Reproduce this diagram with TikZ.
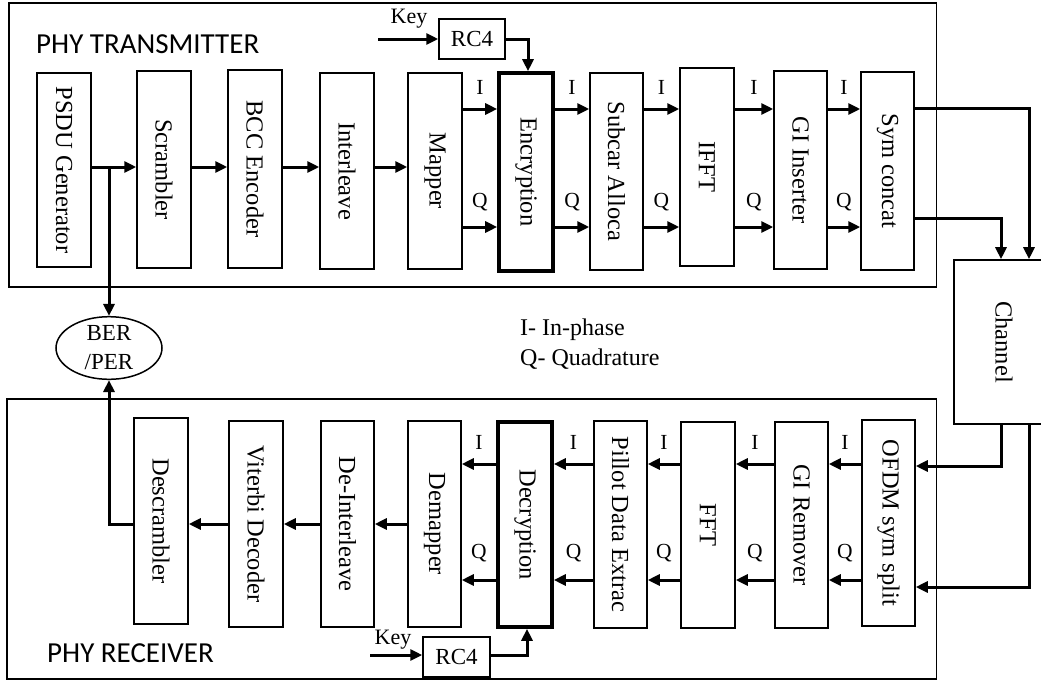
\documentclass[tikz,border=0pt]{standalone}
\usepackage{graphicx}
\usepackage{fontspec}
\setmainfont{Liberation Serif}
\newfontfamily\titlesans{Carlito}
\usetikzlibrary{arrows.meta,shapes.geometric}

\tikzset{
  blk/.style={draw, line width=1.5pt, inner sep=0pt, font=\fontsize{24.5}{28}\selectfont},
  cryptblk/.style={blk, line width=3.6pt},
  frame/.style={draw, line width=1.6pt, inner sep=0pt},
  arr/.style={line width=3pt, -{Triangle[length=12pt,width=11pt]}},
  iq/.style={inner sep=0pt, font=\fontsize{21.5}{24}\selectfont},
  keytxt/.style={inner sep=0pt, font=\fontsize{22}{24}\selectfont},
  rcbox/.style={draw, line width=1.5pt, inner sep=0pt, font=\fontsize{23}{26}\selectfont},
  title/.style={inner sep=0pt, anchor=base west, font=\titlesans\fontsize{29}{34}\selectfont},
}

% vertical processing block given by its corners: [style]{name}{x1}{y1}{x2}{y2}{label}
\newcommand\vblock[7][blk]{%
  \node[#1, minimum width={(#5-#3)*1pt}, minimum height={(#6-#4)*1pt}]
    (#2) at ({(#3+#5)/2},{(#4+#6)/2}) {\rotatebox{-90}{#7}};}

\begin{document}
\begin{tikzpicture}[x=1pt,y=-1pt]
\useasboundingbox (0,0) rectangle (1041,681);

% ---------- frames ----------
\node[frame, minimum width=927.5pt, minimum height=284pt] (txframe) at (472.75,145) {};
\node[frame, minimum width=929.5pt, minimum height=280pt] (rxframe) at (471.75,539) {};
\node[title] (txtitle) at (36,53) {PHY TRANSMITTER};
\node[title] (rxtitle) at (47,662) {PHY RECEIVER};

% ---------- transmitter blocks ----------
\vblock{psdu}{37}{73}{91}{267}{PSDU Generator}
\vblock{scr}{137}{71}{191}{268}{Scrambler}
\vblock{bcc}{228}{70}{282}{268}{BCC Encoder}
\vblock{intl}{320}{73}{374}{269}{Interleave}
\vblock{mapper}{408}{73}{462}{269}{Mapper}
\vblock[cryptblk]{enc}{499}{73}{553}{271}{Encryption}
\vblock{sub}{590}{73}{643}{270}{Subcar Alloca}
\vblock{ifft}{680}{68}{734}{266}{IFFT}
\vblock{gi}{774}{71}{827}{269}{GI Inserter}
\vblock{sym}{861}{72}{914}{270}{Sym concat}

% ---------- receiver blocks ----------
\vblock{desc}{134}{418}{188}{624}{Descrambler}
\vblock{vit}{229}{421}{283}{627}{Viterbi Decoder}
\vblock{deint}{321}{421}{374}{627}{De-Interleave}
\vblock{demap}{408}{421}{461}{627}{Demapper}
\vblock[cryptblk]{dec}{498}{422}{552}{627}{Decryption}
\vblock{pil}{594}{421}{647}{628}{Pillot Data Extrac}
\vblock{fft}{681}{422}{735}{628}{FFT}
\vblock{gir}{775}{422}{828}{628}{GI Remover}
\vblock{ofdm}{862}{420}{915}{626}{OFDM sym split}

% ---------- channel, key streams, error counter ----------
\node[blk, line width=1.6pt, minimum width=100pt, minimum height=164pt] (chan) at (1004,342) {\rotatebox{-90}{Channel}};
\node[rcbox, minimum width=66pt, minimum height=40pt] (trc4) at (472,39) {RC4};
\node[rcbox, minimum width=67pt, minimum height=40pt] (rrc4) at (456.5,657) {RC4};
\node[ellipse, draw, line width=1.5pt, inner sep=0pt, minimum width=106pt, minimum height=60pt,
      align=center, font=\fontsize{23}{29}\selectfont] (ber) at (109,348) {BER\\/PER};
\node[anchor=north west, inner sep=0pt, align=left, font=\fontsize{24}{30}\selectfont]
      (legend) at (520,319) {I- In-phase\\Q- Quadrature};

% ---------- signal levels ----------
\coordinate (tD) at (0,167);
\coordinate (tI) at (0,109);
\coordinate (tQ) at (0,227);
\coordinate (tIo) at (0,108);
\coordinate (tQo) at (0,218);
\coordinate (rD) at (0,524);
\coordinate (rI) at (0,464);
\coordinate (rQ) at (0,580);
\coordinate (rIc) at (0,466);
\coordinate (rQc) at (0,587);

% ---------- transmitter connections ----------
\foreach \a/\b in {psdu/scr, scr/bcc, bcc/intl, intl/mapper}
  \draw[arr] (\a.east |- tD) -- (\b.west |- tD);
\foreach \a/\b in {mapper/enc, enc/sub, sub/ifft, ifft/gi, gi/sym}{
  \draw[arr] (\a.east |- tI) -- (\b.west |- tI)
    node[iq, midway, yshift=22pt, name=ti\a] {I};
  \draw[arr] (\a.east |- tQ) -- (\b.west |- tQ)
    node[iq, midway, yshift=25pt, name=tq\a] {Q};
}
\coordinate (tap) at (109,167);
\draw[arr] (tap) -- (ber.north);

\coordinate (tkey) at (378,39);
\draw[arr] (tkey) -- (trc4.west);
\node[keytxt] (tkeylbl) at (409,19) {Key};
\draw[arr] (trc4.east) -| ([xshift=2pt]enc.north);

\draw[arr] (sym.east |- tIo) -| ([xshift=25pt]chan.north);
\draw[arr] (sym.east |- tQo) -| ([xshift=-3pt]chan.north);

% ---------- receiver connections ----------
\draw[arr] ([xshift=-3pt]chan.south) |- (ofdm.east |- rIc);
\draw[arr] ([xshift=25pt]chan.south) |- (ofdm.east |- rQc);

\foreach \a/\b in {ofdm/gir, gir/fft, fft/pil, pil/dec, dec/demap}{
  \draw[arr] (\a.west |- rI) -- (\b.east |- rI)
    node[iq, midway, yshift=22pt, name=ri\a] {I};
  \draw[arr] (\a.west |- rQ) -- (\b.east |- rQ)
    node[iq, midway, yshift=27pt, name=rq\a] {Q};
}
\foreach \a/\b in {demap/deint, deint/vit, vit/desc}
  \draw[arr] (\a.west |- rD) -- (\b.east |- rD);
\draw[arr] (desc.west |- rD) -| (ber.south);

\coordinate (rkey) at (370,655);
\draw[arr] (rkey) -- (rrc4.west |- rkey);
\node[keytxt] (rkeylbl) at (393,640) {Key};
\draw[arr] (rrc4.east |- rkey) -| ([xshift=2pt]dec.south);
\end{tikzpicture}
\end{document}
